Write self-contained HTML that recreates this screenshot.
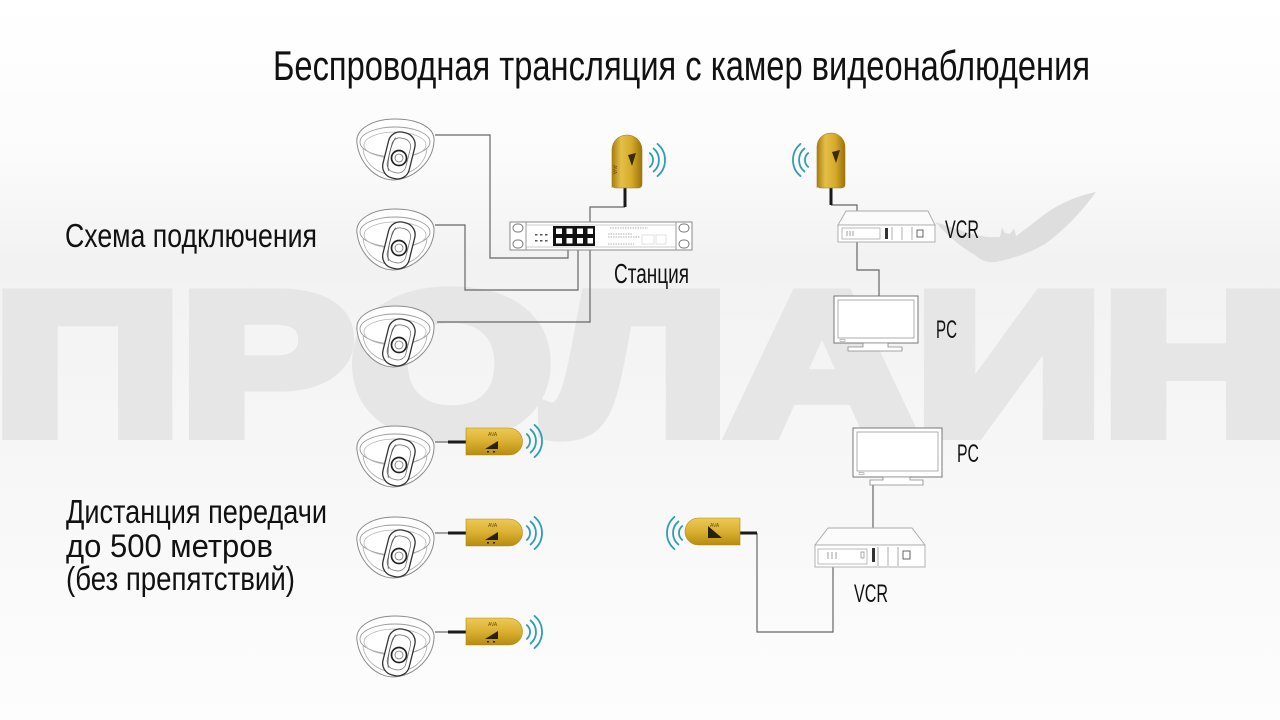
<!DOCTYPE html>
<html><head><meta charset="utf-8"><style>
html,body{margin:0;padding:0;width:1280px;height:720px;overflow:hidden;background:#fafafa}
svg{display:block}
text{font-family:"Liberation Sans","DejaVu Sans",sans-serif}
</style></head><body>
<svg width="1280" height="720" viewBox="0 0 1280 720" xmlns="http://www.w3.org/2000/svg">
<defs>
<linearGradient id="bg" x1="0" y1="0" x2="0" y2="1">
<stop offset="0" stop-color="#ffffff"/>
<stop offset="0.22" stop-color="#fbfbfb"/>
<stop offset="0.36" stop-color="#f2f2f2"/>
<stop offset="0.6" stop-color="#f6f6f6"/>
<stop offset="1" stop-color="#fdfdfd"/>
</linearGradient>
<linearGradient id="goldV" x1="0" y1="0" x2="1" y2="0">
<stop offset="0" stop-color="#a87e10"/>
<stop offset="0.3" stop-color="#e4bf48"/>
<stop offset="0.65" stop-color="#d6aa2a"/>
<stop offset="1" stop-color="#9a740c"/>
</linearGradient>
<linearGradient id="goldH" x1="0" y1="0" x2="0" y2="1">
<stop offset="0" stop-color="#ecc955"/>
<stop offset="0.5" stop-color="#dbb032"/>
<stop offset="1" stop-color="#b58c10"/>
</linearGradient>
<g id="cam">
<path d="M2,26 C0,12 18,2 40,2 C62,2 80,10 79,24 C78,44 60,62 38,63 C18,62 4,44 2,26Z" fill="#ffffff" stroke="#8a8a8a" stroke-width="1"/>
<ellipse cx="40" cy="25" rx="35" ry="15" fill="none" stroke="#9a9a9a" stroke-width="0.9"/>
<ellipse cx="40" cy="28" rx="31" ry="13" fill="none" stroke="#b5b5b5" stroke-width="0.8"/>
<path d="M8,32 C10,48 24,58 40,58 C56,58 70,48 72,32" fill="none" stroke="#aaaaaa" stroke-width="0.8"/>
<g transform="rotate(14 44 40)">
<rect x="30" y="15" width="27" height="47" rx="12" fill="#ffffff" stroke="#333" stroke-width="1.3"/>
<rect x="34" y="21" width="19" height="35" rx="8" fill="none" stroke="#777" stroke-width="0.8"/>
<path d="M36,22 C33,32 33,46 37,56" fill="none" stroke="#555" stroke-width="0.8"/>
</g>
<circle cx="44" cy="41" r="7.5" fill="#ffffff" stroke="#222" stroke-width="1.7"/>
<circle cx="44" cy="41" r="4" fill="none" stroke="#777" stroke-width="0.8"/>
</g>
<g id="wavesR" fill="none" stroke="#2f9db2" stroke-width="1.8" stroke-linecap="round">
<path d="M5.8,-6.9 A9,9 0 0 1 5.8,6.9"/>
<path d="M9.6,-11.5 A15,15 0 0 1 9.6,11.5"/>
<path d="M13.5,-16.1 A21,21 0 0 1 13.5,16.1"/>
</g>
<g id="wavesL" transform="scale(-1,1)">
<use href="#wavesR"/>
</g>
<g id="txH">
<path d="M0,0 H43 A13.5,13.5 0 0 1 43,27 H0 Z" fill="url(#goldH)" stroke="#b08a18" stroke-width="0.6"/>
<text x="22" y="8" font-size="5" fill="#6b4f08">AVA</text>
<polygon points="19,21 32,21 32,13" fill="#2a2208"/>
<rect x="21" y="23" width="2" height="1.5" fill="#2a2208"/>
<rect x="27" y="23" width="2" height="1.5" fill="#2a2208"/>
</g>
</defs>

<rect width="1280" height="720" fill="url(#bg)"/>

<!-- watermark -->
<text x="-6" y="433" font-size="200" font-weight="bold" fill="#e6e6e6" stroke="#e6e6e6" stroke-width="14" textLength="1296" lengthAdjust="spacingAndGlyphs">ПРОЛАИН</text>
<!-- bat -->
<path d="M935,222 C948,236 962,248 975,255 C981,260 987,263 996,262 C1010,259 1028,254 1045,244 C1062,232 1080,214 1096,192 C1080,195 1060,203 1045,214 C1032,224 1022,232 1016,236 L1014,228 L1010,234 L1005,233 L1002,227 L1000,237 C990,238 975,236 960,230 C950,227 942,224 935,222Z" fill="#dedede"/>

<!-- Title -->
<text x="273" y="80" font-size="42" fill="#111" textLength="817" lengthAdjust="spacingAndGlyphs">Беспроводная трансляция с камер видеонаблюдения</text>

<!-- left labels -->
<text x="65" y="247" font-size="33" fill="#111" textLength="252" lengthAdjust="spacingAndGlyphs">Схема подключения</text>
<text x="66" y="523" font-size="33" fill="#111" textLength="261" lengthAdjust="spacingAndGlyphs">Дистанция передачи</text>
<text x="66" y="557" font-size="32" fill="#111" textLength="207" lengthAdjust="spacingAndGlyphs">до 500 метров</text>
<text x="66" y="590" font-size="33" fill="#111" textLength="229" lengthAdjust="spacingAndGlyphs">(без препятствий)</text>

<!-- connection lines -->
<g fill="none" stroke="#666" stroke-width="1.2">
<path d="M435,135 H490 V258 H568 V246"/>
<path d="M435,225 H465 V290 H578 V246"/>
<path d="M437,322 H590 V207 H625"/>
<path d="M831,205 H857 V211"/>
<path d="M857,242 V270 H879 V296"/>
<path d="M873,485 V528"/>
<path d="M757,533 V632 H833 V567"/>
<path d="M435,442 H450"/>
<path d="M435,533 H450"/>
<path d="M435,632 H450"/>
</g>
<g stroke="#1a1a1a" stroke-width="3" fill="none">
<path d="M625,188 V207"/>
<path d="M831,188 V205"/>
<path d="M740,533 H757"/>
<path d="M448,442 H466"/>
<path d="M448,533 H466"/>
<path d="M448,632 H466"/>
</g>

<!-- cameras -->
<use href="#cam" x="355" y="117"/>
<use href="#cam" x="355" y="207"/>
<use href="#cam" x="355" y="304"/>
<use href="#cam" x="355" y="424"/>
<use href="#cam" x="355" y="515"/>
<use href="#cam" x="355" y="614"/>

<!-- switch -->
<g>
<rect x="510" y="222" width="182" height="28" fill="#ffffff" stroke="#888" stroke-width="1"/>
<line x1="526" y1="222" x2="526" y2="250" stroke="#999"/>
<line x1="676" y1="222" x2="676" y2="250" stroke="#999"/>
<line x1="526" y1="225" x2="676" y2="225" stroke="#bbb" stroke-width="0.8"/>
<line x1="526" y1="247" x2="676" y2="247" stroke="#bbb" stroke-width="0.8"/>
<rect x="513" y="224" width="10" height="8" rx="4" fill="none" stroke="#777"/>
<rect x="513" y="240" width="10" height="8" rx="4" fill="none" stroke="#777"/>
<rect x="679" y="224" width="10" height="8" rx="4" fill="none" stroke="#777"/>
<rect x="679" y="240" width="10" height="8" rx="4" fill="none" stroke="#777"/>
<rect x="553" y="226" width="42" height="20" fill="#111"/>
<g fill="#ffffff">
<rect x="556" y="228.5" width="6" height="5.5"/><rect x="566.5" y="228.5" width="6" height="5.5"/><rect x="577" y="228.5" width="6" height="5.5"/><rect x="587.5" y="228.5" width="5.5" height="5.5"/>
<rect x="556" y="238" width="6" height="5.5"/><rect x="566.5" y="238" width="6" height="5.5"/><rect x="577" y="238" width="6" height="5.5"/><rect x="587.5" y="238" width="5.5" height="5.5"/>
</g>
<g fill="#555">
<rect x="535" y="234" width="2.5" height="1.5"/><rect x="540" y="234" width="2.5" height="1.5"/><rect x="545" y="234" width="2.5" height="1.5"/>
<rect x="535" y="240" width="2.5" height="1.5"/><rect x="540" y="240" width="2.5" height="1.5"/><rect x="545" y="240" width="2.5" height="1.5"/>
</g>
<g stroke="#999" stroke-width="0.8" stroke-dasharray="1.5 1">
<line x1="610" y1="228" x2="648" y2="228"/>
<line x1="608" y1="234" x2="632" y2="234"/>
<line x1="608" y1="237" x2="640" y2="237"/>
<line x1="608" y1="244" x2="634" y2="244"/>
</g>
<g fill="none" stroke="#ccc" stroke-width="0.6">
<rect x="642" y="235" width="12" height="9"/><rect x="656" y="235" width="10" height="9"/>
</g>
</g>
<text x="614" y="283" font-size="28" fill="#111" textLength="75" lengthAdjust="spacingAndGlyphs">Станция</text>

<!-- top antenna -->
<path d="M612,188 V150 A15,15 0 0 1 642,150 V184 Q642,188 638,188 H616 Q612,188 612,184 Z" fill="url(#goldV)" stroke="#a07a10" stroke-width="0.6"/>
<polygon points="628,155 636,153 632,166" fill="#3a2c06"/>
<text x="620" y="172" font-size="5" fill="#6b4f08" transform="rotate(90 620 165)">AVA</text>
<use href="#wavesR" x="644" y="160"/>

<!-- right antenna -->
<path d="M817,188 V147 A14,14 0 0 1 845,147 V184 Q845,188 841,188 H821 Q817,188 817,184 Z" fill="url(#goldV)" stroke="#a07a10" stroke-width="0.6"/>
<polygon points="832,152 840,150 836,163" fill="#3a2c06"/>
<use href="#wavesL" x="814" y="160"/>

<!-- VCR top -->
<g>
<polygon points="838,225 846,211 928,211 935,225" fill="#fbfbfb" stroke="#aaa" stroke-width="0.9"/>
<rect x="838" y="225" width="97" height="17" fill="#ffffff" stroke="#aaa" stroke-width="0.9"/>
<rect x="842" y="228" width="38" height="11" fill="none" stroke="#aaa" stroke-width="0.8"/>
<g stroke="#888" stroke-width="0.8"><line x1="847" y1="231" x2="847" y2="236"/><line x1="850" y1="231" x2="850" y2="236"/><line x1="853" y1="231" x2="853" y2="236"/></g>
<rect x="885" y="228" width="3" height="11" fill="#333"/>
<g stroke="#999" stroke-width="0.8"><line x1="892" y1="227" x2="892" y2="240"/><line x1="902" y1="227" x2="902" y2="240"/><line x1="912" y1="227" x2="912" y2="240"/></g>
<rect x="917" y="230" width="6" height="7" fill="none" stroke="#555" stroke-width="0.9"/>
</g>
<text x="945" y="238" font-size="25" fill="#111" textLength="34" lengthAdjust="spacingAndGlyphs">VCR</text>

<!-- monitor top -->
<rect x="834" y="296" width="84" height="47" fill="#ffffff" stroke="#777" stroke-width="1"/>
<rect x="838" y="300" width="76" height="38" fill="none" stroke="#999" stroke-width="0.8"/>
<rect x="840" y="339.5" width="5" height="2" fill="none" stroke="#888" stroke-width="0.5"/>
<path d="M848,351 H902 V347 H888 V343 H863 V347 H848 Z" fill="#fff" stroke="#888" stroke-width="0.8"/>
<text x="936" y="338" font-size="25" fill="#111" textLength="21" lengthAdjust="spacingAndGlyphs">PC</text>

<!-- bottom-left transmitters -->
<use href="#txH" x="466" y="428"/>
<use href="#txH" x="466" y="519"/>
<use href="#txH" x="466" y="618"/>
<use href="#wavesR" x="521" y="441"/>
<use href="#wavesR" x="521" y="533"/>
<use href="#wavesR" x="521" y="632"/>

<!-- bottom-right monitor -->
<rect x="853" y="428" width="89" height="49" fill="#ffffff" stroke="#777" stroke-width="1"/>
<rect x="857" y="432" width="81" height="39" fill="none" stroke="#999" stroke-width="0.8"/>
<rect x="859" y="472.5" width="5" height="2" fill="none" stroke="#888" stroke-width="0.5"/>
<path d="M870,485 H923 V480 H910 V477 H883 V480 H870 Z" fill="#fff" stroke="#888" stroke-width="0.8"/>
<text x="957" y="462" font-size="25" fill="#111" textLength="22" lengthAdjust="spacingAndGlyphs">PC</text>

<!-- bottom-right transmitter -->
<path d="M740,518 H698.5 A13.5,13.5 0 0 0 698.5,545 H740 Z" fill="url(#goldH)" stroke="#b08a18" stroke-width="0.6"/>
<text x="710" y="527" font-size="5" fill="#6b4f08">AVA</text>
<polygon points="708,526 708,538 722,538" fill="#2a2208"/>
<use href="#wavesL" x="688" y="533"/>

<!-- VCR bottom -->
<g>
<polygon points="815,545 828,528 912,528 925,545" fill="#fbfbfb" stroke="#aaa" stroke-width="0.9"/>
<rect x="815" y="545" width="110" height="22" fill="#ffffff" stroke="#aaa" stroke-width="0.9"/>
<rect x="818" y="549" width="49" height="15" fill="none" stroke="#aaa" stroke-width="0.8"/>
<g stroke="#888" stroke-width="0.8"><line x1="828" y1="552" x2="828" y2="559"/><line x1="832" y1="552" x2="832" y2="559"/><line x1="836" y1="552" x2="836" y2="559"/></g>
<rect x="861" y="552" width="3" height="6" fill="none" stroke="#777" stroke-width="0.6"/>
<rect x="872" y="548" width="3" height="14" fill="#333"/>
<g stroke="#999" stroke-width="0.8"><line x1="878" y1="547" x2="878" y2="566"/><line x1="888" y1="547" x2="888" y2="566"/><line x1="898" y1="547" x2="898" y2="566"/></g>
<rect x="903" y="551" width="7" height="8" fill="none" stroke="#555" stroke-width="0.9"/>
</g>
<text x="854" y="602" font-size="25" fill="#111" textLength="34" lengthAdjust="spacingAndGlyphs">VCR</text>
</svg>
</body></html>
